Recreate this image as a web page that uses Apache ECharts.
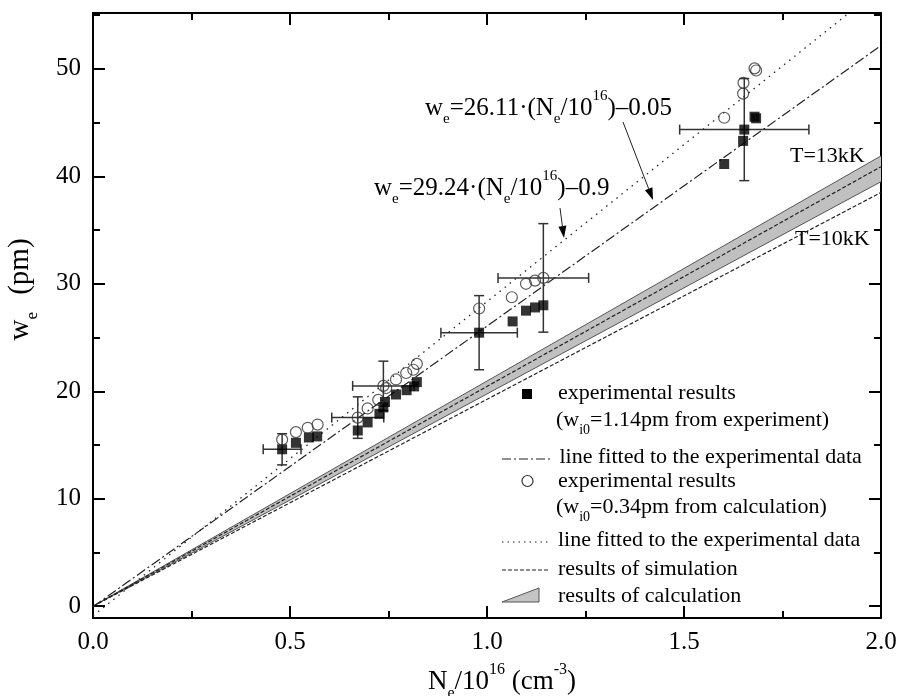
<!DOCTYPE html>
<html>
<head>
<meta charset="utf-8">
<script src="https://cdn.jsdelivr.net/npm/echarts@6/dist/echarts.min.js"></script>
<style>
html,body{margin:0;padding:0;background:#fff;}
#chart{width:897px;height:696px;}
</style>
</head>
<body>
<div id="chart"></div>
<script>
// ---- tick values ----
const xLabelTicks = [0, 0.5, 1.0, 1.5, 2.0];
const yLabelTicks = [0, 10, 20, 30, 40, 50];
const yMinorTicks = [5, 15, 25, 35, 45, 55];

// ---- experimental results (w_i0 = 1.14 pm from experiment), filled squares ----
const sqX = [0.480, 0.515, 0.548, 0.569, 0.672, 0.697, 0.727, 0.737, 0.741, 0.769, 0.796, 0.815, 0.822,
             0.980, 1.065, 1.099, 1.122, 1.143, 1.602, 1.650, 1.653, 1.679, 1.683];
const sqY = [14.6, 15.2, 15.7, 15.8, 16.35, 17.1, 17.9, 18.5, 19.0, 19.7, 20.1, 20.45, 20.85,
             25.45, 26.5, 27.5, 27.8, 28.0, 41.15, 43.3, 44.35, 45.55, 45.4];

// ---- experimental results (w_i0 = 0.34 pm from calculation), open circles ----
const ciX = [0.480, 0.515, 0.545, 0.570, 0.672, 0.697, 0.724, 0.737, 0.744, 0.769, 0.795, 0.813, 0.822,
             0.980, 1.063, 1.099, 1.122, 1.143, 1.602, 1.650, 1.651, 1.679, 1.683];
const ciY = [15.5, 16.2, 16.6, 16.9, 17.55, 18.4, 19.2, 20.5, 20.3, 21.1, 21.7, 22.0, 22.55,
             27.7, 28.75, 30.0, 30.3, 30.55, 45.45, 47.7, 48.7, 50.05, 49.85];

// ---- error bars ----
const errX  = [0.480, 0.672, 0.737, 0.980, 1.143, 1.653];
const errY  = [14.6, 17.55, 20.5, 25.45, 30.55, 44.35];
const errDx = [0.048, 0.066, 0.078, 0.097, 0.115, 0.164];
const errDy = [1.45, 1.93, 2.3, 3.45, 5.05, 4.75];

// ---- fitted lines (end points) ----
const fitX = [0, 2];
const fitSqY = [-0.05, 52.17];   // w_e = 26.11 N - 0.05
const fitCiY = [-0.9, 57.58];    // w_e = 29.24 N - 0.9

// ---- simulation results ----
const simX = [0, 2];
const sim13Y = [0, 40.9];
const sim10Y = [0, 38.5];

// ---- calculation band ----
const bandX = [0, 2];
const bandLo = [0, 39.5];
const bandHi = [0, 41.9];

const F = 'Liberation Serif';
const pairs = (xs, ys) => xs.map((x, i) => [x, ys[i]]);

function richFor(size, small, lh) {
  return {
    m: {fontSize: size, fontFamily: F, color: '#000', lineHeight: lh, verticalAlign: 'middle'},
    s: {fontSize: small, fontFamily: F, color: '#000', lineHeight: small, verticalAlign: 'bottom'},
    t: {fontSize: small, fontFamily: F, color: '#000', lineHeight: small, verticalAlign: 'bottom', padding: [0, 10, 0, 0]},
    p: {fontSize: small, fontFamily: F, color: '#000', lineHeight: small, verticalAlign: 'top'}
  };
}
const richLegend = richFor(22, 14, 34);
const richNote = richFor(25, 15, 38);
const richXTitle = richFor(27, 16, 40);
const richYTitle = richFor(29, 17, 42);

const chart = echarts.init(document.getElementById('chart'));

const axisLineStyle = {color: '#000', width: 2};
function xAx(pos, labels) {
  return {
    type: 'value', min: 0, max: 2, interval: 0.5, position: pos,
    axisLine: {show: true, onZero: false, lineStyle: axisLineStyle},
    axisTick: {show: true, inside: true, length: 12, lineStyle: {color: '#000', width: 2}},
    minorTick: {show: true, splitNumber: 2, length: 7, lineStyle: {color: '#000', width: 2}},
    splitLine: {show: false}, minorSplitLine: {show: false},
    axisLabel: labels ? {show: true, customValues: xLabelTicks, formatter: v => v.toFixed(1),
      fontSize: 25, fontFamily: F, color: '#000', margin: 12} : {show: false},
    name: labels ? '{m|N}{s|e}{m|/10}{p|16}{m| (cm}{p|-3}{m|)}' : '',
    nameLocation: 'middle', nameGap: 44,
    nameTextStyle: {rich: richXTitle, padding: [0, 0, 0, 30]}
  };
}
function yAx(pos, major, labels) {
  return {
    type: 'value', min: -1.1, max: 55.2, position: pos,
    axisLine: {show: major, onZero: false, lineStyle: axisLineStyle},
    axisTick: {show: true, inside: true, length: major ? 12 : 7,
      customValues: major ? yLabelTicks : yMinorTicks, lineStyle: {color: '#000', width: 2}},
    splitLine: {show: false},
    axisLabel: labels ? {show: true, customValues: yLabelTicks, fontSize: 25, fontFamily: F,
      color: '#000', margin: 12} : {show: false},
    name: labels ? '{m|w}{t|e}{m| (pm)}' : '',
    nameLocation: 'middle', nameGap: 52,
    nameTextStyle: {rich: richYTitle, padding: [0, 0, 0, 52]}
  };
}

function arrow(x1, y1, x2, y2) {
  const ang = Math.atan2(y2 - y1, x2 - x1);
  const L = 12, W = 4;
  const bx = x2 - L * Math.cos(ang), by = y2 - L * Math.sin(ang);
  const nx = -Math.sin(ang), ny = Math.cos(ang);
  return [
    {type: 'line', shape: {x1: x1, y1: y1, x2: bx, y2: by}, style: {stroke: '#222', lineWidth: 1}},
    {type: 'polygon', shape: {points: [[x2, y2], [bx + nx * W, by + ny * W], [bx - nx * W, by - ny * W]]},
     style: {fill: '#000'}}
  ];
}
function txt(x, y, text, rich, size) {
  return {type: 'text', x: x, y: y, style: {text: text, rich: rich || richLegend, fill: '#000',
    font: (size || 22) + 'px "' + F + '"', verticalAlign: 'middle', align: 'left'}};
}
function sample(y, dash) {
  return {type: 'line', shape: {x1: 502, y1: y, x2: 550, y2: y},
    style: {stroke: '#222', lineWidth: 1.2, lineDash: dash}};
}

const graphics = [
  txt(425, 108, '{m|w}{s|e}{m|=26.11·(N}{s|e}{m|/10}{p|16}{m|)–0.05}', richNote, 25),
  txt(374, 188, '{m|w}{s|e}{m|=29.24·(N}{s|e}{m|/10}{p|16}{m|)–0.9}', richNote, 25),
  ...arrow(623, 122, 653, 200),
  ...arrow(560, 208, 564, 238),
  {type: 'text', x: 790, y: 156, style: {text: 'T=13kK', font: '22px "' + F + '"', fill: '#000', verticalAlign: 'middle'}},
  {type: 'text', x: 795, y: 239, style: {text: 'T=10kK', font: '22px "' + F + '"', fill: '#000', verticalAlign: 'middle'}},
  // legend
  {type: 'rect', shape: {x: 522, y: 389, width: 10, height: 10}, style: {fill: '#000'}},
  txt(558, 393, '{m|experimental results}'),
  txt(556, 420, '{m|(w}{s|i0}{m|=1.14pm from experiment)}'),
  sample(459, [9, 3, 2, 3]),
  txt(554, 457, '{m| line fitted to the experimental data}'),
  {type: 'circle', shape: {cx: 527.5, cy: 481, r: 5.5}, style: {fill: 'none', stroke: '#333', lineWidth: 1.2}},
  txt(558, 481, '{m|experimental results}'),
  txt(556, 507, '{m|(w}{s|i0}{m|=0.34pm from calculation)}'),
  sample(542, [1.5, 4]),
  txt(558, 540, '{m|line fitted to the experimental data}'),
  sample(570, [4, 2]),
  txt(558, 569, '{m|results of simulation}'),
  {type: 'polygon', shape: {points: [[502, 602], [539, 588], [539, 602]]}, style: {fill: '#c4c4c4', stroke: '#555', lineWidth: 1}},
  txt(558, 596, '{m|results of calculation}')
];

chart.setOption({
  animation: false,
  backgroundColor: '#fff',
  textStyle: {fontFamily: F},
  grid: {left: 93, right: 16, top: 13, bottom: 78, containLabel: false, outerBoundsMode: 'none'},
  xAxis: [xAx('bottom', true), xAx('top', false)],
  yAxis: [yAx('left', true, true), yAx('left', false, false), yAx('right', true, false), yAx('right', false, false)],
  series: [
    {
      type: 'custom', name: 'results of calculation', xAxisIndex: 0, yAxisIndex: 0,
      data: [[bandX[0], bandLo[0]]], silent: true, z: 1,
      renderItem: function (params, api) {
        const up = bandX.map((x, i) => api.coord([x, bandHi[i]]));
        const lo = bandX.map((x, i) => api.coord([x, bandLo[i]]));
        return {type: 'group', children: [
          {type: 'polygon', shape: {points: up.concat(lo.slice().reverse())}, style: {fill: '#c0c0c0'}},
          {type: 'polyline', shape: {points: up}, style: {stroke: '#555', lineWidth: 1, fill: null}},
          {type: 'polyline', shape: {points: lo}, style: {stroke: '#555', lineWidth: 1, fill: null}}
        ]};
      }
    },
    {type: 'line', name: 'sim13', data: pairs(simX, sim13Y), symbol: 'none', z: 2,
     lineStyle: {color: '#222', width: 1.2, type: [4, 2]}},
    {type: 'line', name: 'sim10', data: pairs(simX, sim10Y), symbol: 'none', z: 2,
     lineStyle: {color: '#222', width: 1.2, type: [4, 2]}},
    {type: 'line', name: 'fitSq', data: pairs(fitX, fitSqY), symbol: 'none', z: 2, clip: true,
     lineStyle: {color: '#222', width: 1.2, type: [10, 3, 2, 3]}},
    {type: 'line', name: 'fitCi', data: pairs(fitX, fitCiY), symbol: 'none', z: 2, clip: true,
     lineStyle: {color: '#222', width: 1.3, type: [1.5, 5]}},
    {
      type: 'custom', name: 'errors', z: 3,
      data: errX.map((x, i) => [x, errY[i], errDx[i], errDy[i]]),
      encode: {x: 0, y: 1},
      renderItem: function (params, api) {
        const x = api.value(0), y = api.value(1), dx = api.value(2), dy = api.value(3);
        const l = api.coord([x - dx, y]), r = api.coord([x + dx, y]);
        const t = api.coord([x, y + dy]), b = api.coord([x, y - dy]);
        const c = 5;
        const st = {stroke: '#333', lineWidth: 1.5};
        return {type: 'group', children: [
          {type: 'line', shape: {x1: l[0], y1: l[1], x2: r[0], y2: r[1]}, style: st},
          {type: 'line', shape: {x1: l[0], y1: l[1] - c, x2: l[0], y2: l[1] + c}, style: st},
          {type: 'line', shape: {x1: r[0], y1: r[1] - c, x2: r[0], y2: r[1] + c}, style: st},
          {type: 'line', shape: {x1: t[0], y1: t[1], x2: b[0], y2: b[1]}, style: st},
          {type: 'line', shape: {x1: t[0] - c, y1: t[1], x2: t[0] + c, y2: t[1]}, style: st},
          {type: 'line', shape: {x1: b[0] - c, y1: b[1], x2: b[0] + c, y2: b[1]}, style: st}
        ]};
      }
    },
    {type: 'scatter', name: 'squares', data: pairs(sqX, sqY), symbol: 'rect', symbolSize: 10, z: 4,
     itemStyle: {color: '#000'}},
    {type: 'scatter', name: 'circles', data: pairs(ciX, ciY), symbol: 'circle', symbolSize: 11, z: 5,
     itemStyle: {color: 'rgba(255,255,255,0)', borderColor: '#333', borderWidth: 1.2}}
  ],
  graphic: graphics
});
</script>
</body>
</html>
